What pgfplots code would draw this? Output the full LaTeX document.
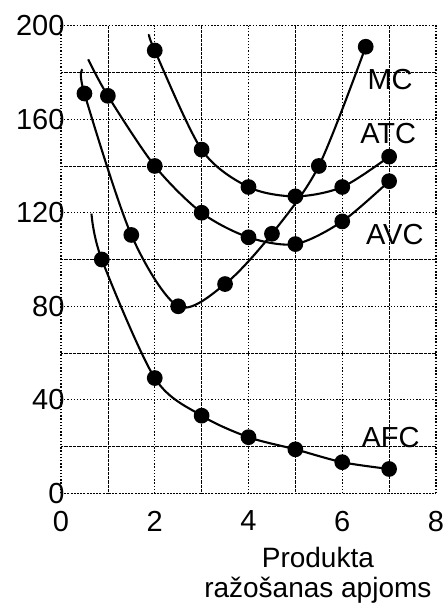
\documentclass[border=0pt]{standalone}
\usepackage{fontspec}
\setmainfont{Liberation Sans}
\usepackage{pgfplots}
\pgfplotsset{compat=1.18}
\usetikzlibrary{calc}

\begin{document}
\begin{tikzpicture}
\begin{axis}[
    scale only axis,
    width=375pt, height=467.6pt,
    xmin=0, xmax=8, ymin=0, ymax=200,
    xtick={0,2,...,8}, ytick={0,40,...,200},
    minor x tick num=1, minor y tick num=1,
    grid=both,
    major grid style={black, line width=1.3pt, dash pattern=on 1.3pt off 1.9pt},
    minor grid style={black, line width=0.7pt, dash pattern=on 0.8pt off 0.5pt},
    axis line style={black, line width=1.3pt, dash pattern=on 1.3pt off 1.9pt},
    major tick length=0pt, minor tick length=0pt,
    tick style={draw=none},
    tick label style={font=\fontsize{29}{31}\selectfont},
    /pgf/number format/assume math mode=true,
    yticklabel style={anchor=east, xshift=7pt},
    xticklabel style={anchor=north, yshift=-14pt},
    xlabel={Produkta\\ražošanas apjoms},
    xlabel style={font=\fontsize{28}{30}\selectfont, align=center,
        at={(axis description cs:0.685,0)}, anchor=north, yshift=-50pt},
    every axis plot/.append style={line width=2.1pt, black},
    clip=false,
]
% MC
\addplot[smooth, no marks] coordinates {(0.46,181.3) (0.5,171) (1.5,110.5) (2.5,80) (3.5,89.5) (4.5,111) (5.5,140) (6.5,191)};
\addplot[only marks, mark=*, mark size=6.8pt] coordinates {(0.5,171) (1.5,110.5) (2.5,80) (3.5,89.5) (4.5,111) (5.5,140) (6.5,191)};
% ATC
\addplot[smooth, no marks] coordinates {(1.88,196.3) (2,189.4) (3,147) (4,131) (5,127) (6,131) (7,144)};
\addplot[only marks, mark=*, mark size=6.8pt] coordinates {(2,189.4) (3,147) (4,131) (5,127) (6,131) (7,144)};
% AVC
\addplot[smooth, no marks] coordinates {(0.58,185.6) (1,170) (2,140) (3,120) (4,109.5) (5,106.6) (6,116.3) (7,133.5)};
\addplot[only marks, mark=*, mark size=6.8pt] coordinates {(1,170) (2,140) (3,120) (4,109.5) (5,106.6) (6,116.3) (7,133.5)};
% AFC
\addplot[smooth, no marks] coordinates {(0.65,119.6) (0.87,100) (2,49.3) (3,33.2) (4,24) (5,18.8) (6,13.3) (7,10.4)};
\addplot[only marks, mark=*, mark size=6.8pt] coordinates {(0.87,100) (2,49.3) (3,33.2) (4,24) (5,18.8) (6,13.3) (7,10.4)};

\node[font=\fontsize{29}{31}\selectfont] at (axis cs:7.02,177) {MC};
\node[font=\fontsize{29}{31}\selectfont] at (axis cs:6.98,154) {ATC};
\node[font=\fontsize{29}{31}\selectfont] at (axis cs:7.12,110.6) {AVC};
\node[font=\fontsize{29}{31}\selectfont] at (axis cs:7.03,23.8) {AFC};
\end{axis}
\path ($(current axis.south west)+(-61pt,-119.7pt)$) rectangle ($(current axis.north east)+(9pt,25.7pt)$);
\end{tikzpicture}
\end{document}
